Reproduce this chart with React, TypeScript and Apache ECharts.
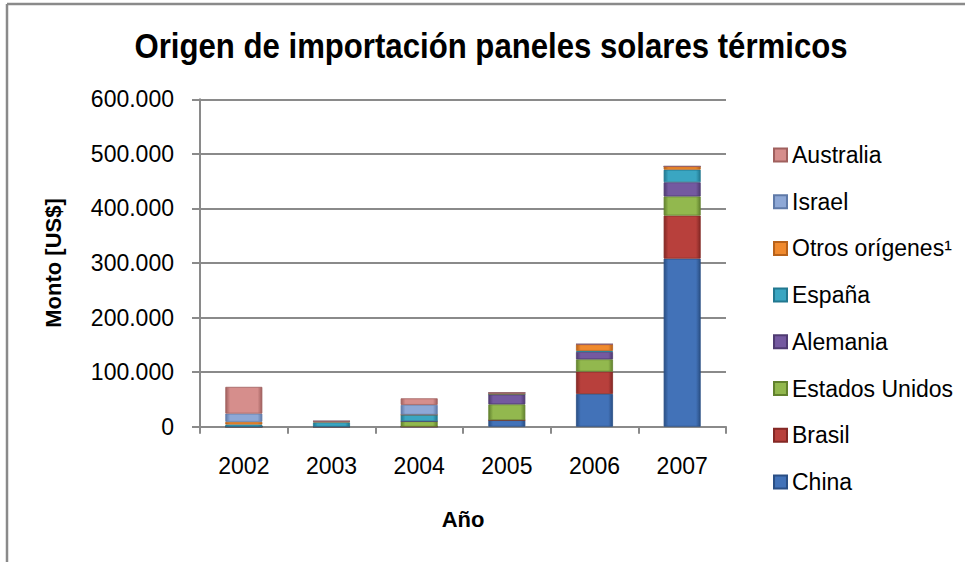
import React, { useEffect, useRef } from "react";
import * as echarts from "echarts";

const years = ["2002", "2003", "2004", "2005", "2006", "2007"];
const china = [0, 0, 0, 12000, 60000, 308000];
const brasil = [0, 0, 0, 0, 41000, 79000];
const eeuu = [0, 0, 10000, 29000, 22500, 35000];
const alemania = [0, 0, 0, 18000, 13500, 26000];
const espana = [4000, 8000, 12000, 0, 2000, 23000];
const otros = [5000, 2000, 0, 3000, 12000, 6000];
const israel = [15000, 0, 18000, 0, 0, 0];
const australia = [49000, 0, 12000, 0, 0, 0];

const seriesNames = ["China", "Brasil", "Estados Unidos", "Alemania", "España", "Otros orígenes¹", "Israel", "Australia"];
const seriesData = [china, brasil, eeuu, alemania, espana, otros, israel, australia];
const seriesColors = ["#4272B8", "#B8403C", "#92B84E", "#7459A0", "#3AA6C2", "#F08A2E", "#8EA8D6", "#D68E8C"];
const seriesEdges = ["#2A4F85", "#842825", "#62822E", "#4F3B72", "#227890", "#B8621A", "#5F7AA8", "#A0605E"];

const FONT = "'Liberation Sans', Arial, sans-serif";

const fmt = (v: number) => String(v).replace(/\B(?=(\d{3})+(?!\d))/g, ".");

export default function App() {
  const ref = useRef<HTMLDivElement>(null);
  useEffect(() => {
    if (!ref.current) return;
    const chart = echarts.init(ref.current, undefined, { renderer: "svg" });
    chart.setOption({
      animation: false,
      backgroundColor: "#ffffff",
      textStyle: { fontFamily: FONT },
      graphic: [
        { type: "line", shape: { x1: 7, y1: 4, x2: 965, y2: 4 }, style: { stroke: "#8a8a8a", lineWidth: 2.5 } },
        { type: "line", shape: { x1: 7, y1: 4, x2: 7, y2: 562 }, style: { stroke: "#8a8a8a", lineWidth: 2.5 } },
        {
          type: "text",
          x: 491,
          y: 46,
          scaleX: 0.89,
          style: {
            text: "Origen de importación paneles solares térmicos",
            font: `bold 35px ${FONT}`,
            fill: "#000",
            textAlign: "center",
            textVerticalAlign: "middle",
          },
        },
      ],
      grid: { left: 200, right: 239, top: 99.3, bottom: 135.3, containLabel: false },
      legend: {
        orient: "vertical",
        left: 768,
        top: 136,
        itemWidth: 13,
        itemHeight: 13,
        itemGap: 18.7,
        icon: "rect",
        data: [...seriesNames].reverse(),
        textStyle: { fontFamily: FONT, fontSize: 23, color: "#000", lineHeight: 28 },
      },
      xAxis: {
        type: "category",
        data: years,
        name: "Año",
        nameLocation: "middle",
        nameGap: 82,
        nameTextStyle: { fontFamily: FONT, fontSize: 22, fontWeight: "bold", color: "#000" },
        axisLine: { lineStyle: { color: "#8a8a8a", width: 2 } },
        axisTick: { show: true, length: 7, lineStyle: { color: "#8a8a8a", width: 2 } },
        axisLabel: { fontFamily: FONT, fontSize: 23, color: "#000", margin: 28 },
      },
      yAxis: {
        type: "value",
        min: 0,
        max: 600000,
        interval: 100000,
        name: "Monto [US$]",
        nameLocation: "middle",
        nameGap: 136,
        nameRotate: 90,
        nameTextStyle: { fontFamily: FONT, fontSize: 22, fontWeight: "bold", color: "#000" },
        axisLine: { show: true, lineStyle: { color: "#8a8a8a", width: 2 } },
        axisTick: { show: true, length: 8, lineStyle: { color: "#8a8a8a", width: 2 } },
        axisLabel: { fontFamily: FONT, fontSize: 23, color: "#000", margin: 26, formatter: (v: number) => fmt(v) },
        splitLine: { lineStyle: { color: "#8a8a8a", width: 2 } },
      },
      series: seriesNames.map((name, i) => ({
        name,
        type: "bar",
        stack: "total",
        barWidth: 37,
        data: seriesData[i],
        itemStyle: {
          color: new echarts.graphic.LinearGradient(0, 0, 1, 0, [
            { offset: 0, color: seriesEdges[i] },
            { offset: 0.12, color: seriesColors[i] },
            { offset: 0.88, color: seriesColors[i] },
            { offset: 1, color: seriesEdges[i] },
          ]),
          borderColor: seriesEdges[i],
          borderWidth: 0.8,
        },
      })),
    });
    return () => chart.dispose();
  }, []);
  return <div ref={ref} style={{ position: "fixed", left: 0, top: 0, width: 965, height: 562 }} />;
}
